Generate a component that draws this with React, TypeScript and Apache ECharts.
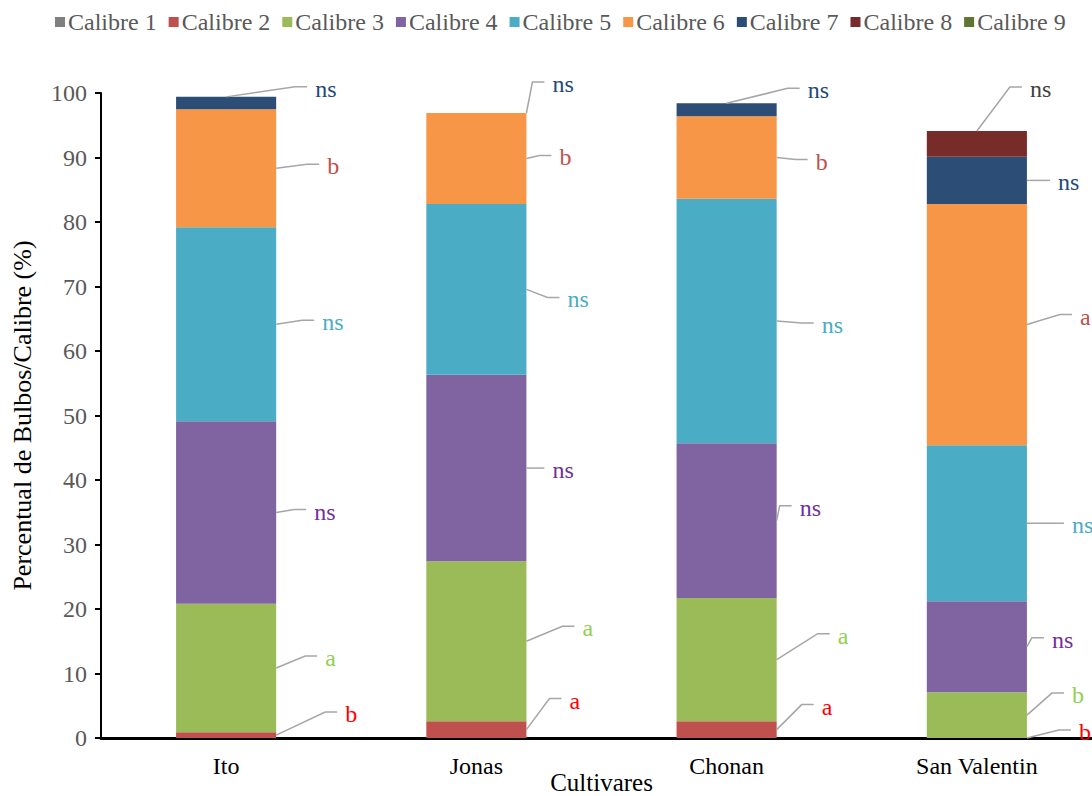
import React, { useEffect, useRef } from "react";
import * as echarts from "echarts";

const categories = ["Ito", "Jonas", "Chonan", "San Valentin"];
const seriesNames = ["Calibre 1", "Calibre 2", "Calibre 3", "Calibre 4", "Calibre 5", "Calibre 6", "Calibre 7", "Calibre 8", "Calibre 9"];

const calibre1 = [0, 0, 0, 0];
const calibre2 = [0.9, 2.6, 2.6, 0];
const calibre3 = [19.9, 24.8, 19.1, 7.1];
const calibre4 = [28.3, 28.9, 24.0, 14.1];
const calibre5 = [30.1, 26.5, 37.9, 24.2];
const calibre6 = [18.3, 14.1, 12.8, 37.4];
const calibre7 = [1.9, 0, 2.0, 7.3];
const calibre8 = [0, 0, 0, 4.0];
const calibre9 = [0, 0, 0, 0];
const seriesValues = [calibre1, calibre2, calibre3, calibre4, calibre5, calibre6, calibre7, calibre8, calibre9];

// significance letters per calibre (index = series), per cultivar
const letters2 = ["b", "a", "a", "b"];
const letters3 = ["a", "a", "a", "b"];
const letters4 = ["ns", "ns", "ns", "ns"];
const letters5 = ["ns", "ns", "ns", "ns"];
const letters6 = ["b", "b", "b", "a"];
const letters7 = ["ns", "ns", "ns", "ns"];
const letters8 = ["", "", "", "ns"];
const lettersBySeries: Record<number, string[]> = { 1: letters2, 2: letters3, 3: letters4, 4: letters5, 5: letters6, 6: letters7, 7: letters8 };

// styles
const barColors = ["#7F7F7F", "#C0504D", "#9BBB59", "#8064A2", "#4BACC6", "#F79646", "#2C4D75", "#772C2A", "#5F7530"];
const letterColors: Record<number, string> = { 1: "#FF0000", 2: "#92D050", 3: "#7030A0", 4: "#4BACC6", 5: "#C0504D", 6: "#1F497D", 7: "#404040" };

// label leader layout: [series][category] -> [mode, dx, dy] (pixels)
const leaderLayout: Record<number, [string, number, number][]> = {
  1: [["right", 49, -23], ["right", 23, -31], ["right", 25, -25], ["right", 32, -8]],
  2: [["right", 29, -12], ["right", 36, -15], ["right", 41, -26], ["right", 25, -22]],
  3: [["right", 18, -3], ["right", 6, 0], ["right", 3, -15], ["right", 5, -9]],
  4: [["right", 26, -4], ["right", 21, 8], ["right", 25, 2], ["right", 25, 0]],
  5: [["right", 31, -4], ["right", 13, -3], ["right", 19, 2], ["right", 33, -10]],
  6: [["top", 69, -10], ["right", 6, -31], ["top", 61, -15], ["right", 11, 0]],
  7: [["right", 0, 0], ["right", 0, 0], ["right", 0, 0], ["top", 33, -44]],
};

const FONT = "Liberation Serif";
const TEXT_SIZE = 24;
const NAME_SIZE = 26;

type LabelItem = { c: number; s: number; text: string };
const labelItems: LabelItem[] = [];
Object.keys(lettersBySeries).forEach((k) => {
  const s = Number(k);
  lettersBySeries[s].forEach((t, c) => {
    if (t) labelItems.push({ c, s, text: t });
  });
});

function measure(text: string) {
  const canvas = document.createElement("canvas");
  const ctx = canvas.getContext("2d")!;
  ctx.font = `${TEXT_SIZE}px "${FONT}", serif`;
  return ctx.measureText(text).width;
}

export default function App() {
  const ref = useRef<HTMLDivElement>(null);
  useEffect(() => {
    if (!ref.current) return;
    const chart = echarts.init(ref.current, null, { renderer: "svg" });

    const barSeries = seriesNames.map((name, i) => ({
      name,
      type: "bar",
      stack: "total",
      barWidth: "40%",
      data: seriesValues[i],
      itemStyle: { color: barColors[i] },
    }));

    const labelSeries = {
      type: "custom",
      name: "labels",
      z: 10,
      silent: true,
      clip: false,
      data: labelItems.map((it) => [it.c, 0]),
      renderItem: (params: any, api: any) => {
        const it = labelItems[params.dataIndex];
        let base = 0;
        for (let k = 0; k < it.s; k++) base += seriesValues[k][it.c];
        const top = base + seriesValues[it.s][it.c];
        const half = (api.size([1, 0])[0] * 0.4) / 2;
        const [mode, dx, dy] = leaderLayout[it.s][it.c];
        let sx: number, sy: number;
        if (mode === "top") {
          const p = api.coord([it.c, top]);
          sx = p[0];
          sy = p[1];
        } else {
          const p = api.coord([it.c, (base + top) / 2]);
          sx = p[0] + half;
          sy = p[1];
        }
        const ex = sx + dx;
        const ey = sy + dy;
        const hx = ex + 12;
        return {
          type: "group",
          children: [
            {
              type: "polyline",
              shape: { points: [[sx, sy], [ex, ey], [hx, ey]] },
              style: { stroke: "#A6A6A6", lineWidth: 1.5, fill: null },
            },
            {
              type: "text",
              style: {
                x: hx + 8,
                y: ey + 2,
                text: it.text,
                fill: letterColors[it.s],
                fontSize: TEXT_SIZE,
                fontFamily: FONT,
                align: "left",
                verticalAlign: "middle",
              },
            },
          ],
        };
      },
    };

    // legend drawn through a custom series so that its text uses the serif font
    const legendSeries = {
      type: "custom",
      name: "legend",
      z: 10,
      silent: true,
      clip: false,
      data: [[0, 0]],
      renderItem: () => {
        const children: any[] = [];
        let x = 55;
        const cy = 22;
        seriesNames.forEach((name, i) => {
          children.push({
            type: "rect",
            shape: { x, y: cy - 5, width: 10, height: 10 },
            style: { fill: barColors[i] },
          });
          x += 13;
          children.push({
            type: "text",
            style: {
              x,
              y: cy,
              text: name,
              fill: "#595959",
              fontSize: TEXT_SIZE,
              fontFamily: FONT,
              align: "left",
              verticalAlign: "middle",
            },
          });
          x += measure(name) + 12;
        });
        return { type: "group", children };
      },
    };

    chart.setOption({
      animation: false,
      textStyle: { fontFamily: FONT },
      grid: { left: 101, right: -10, top: 93, bottom: 58, containLabel: false, outerBoundsMode: "none" },
      xAxis: {
        type: "category",
        data: categories,
        name: "Cultivares",
        nameLocation: "middle",
        nameGap: 32,
        nameMoveOverlap: false,
        nameTextStyle: { fontSize: 25, color: "#000", fontFamily: FONT },
        axisLine: { lineStyle: { color: "#000", width: 3 } },
        axisTick: { show: false },
        axisLabel: { fontSize: TEXT_SIZE, color: "#000", margin: 16, fontFamily: FONT },
      },
      yAxis: {
        type: "value",
        min: 0,
        max: 100,
        interval: 10,
        name: "Percentual de Bulbos/Calibre (%)",
        nameLocation: "middle",
        nameGap: 66,
        nameMoveOverlap: false,
        nameTextStyle: { fontSize: NAME_SIZE, color: "#000", fontFamily: FONT },
        axisLine: { show: true, lineStyle: { color: "#000", width: 2 } },
        axisTick: { show: true, length: 6, lineStyle: { color: "#000", width: 2 } },
        axisLabel: { fontSize: TEXT_SIZE, color: "#595959", margin: 14, fontFamily: FONT },
        splitLine: { show: false },
      },
      series: [...barSeries, labelSeries, legendSeries],
    });
    return () => chart.dispose();
  }, []);
  return <div ref={ref} style={{ position: "absolute", left: 0, top: 0, width: 1092, height: 796 }} />;
}
